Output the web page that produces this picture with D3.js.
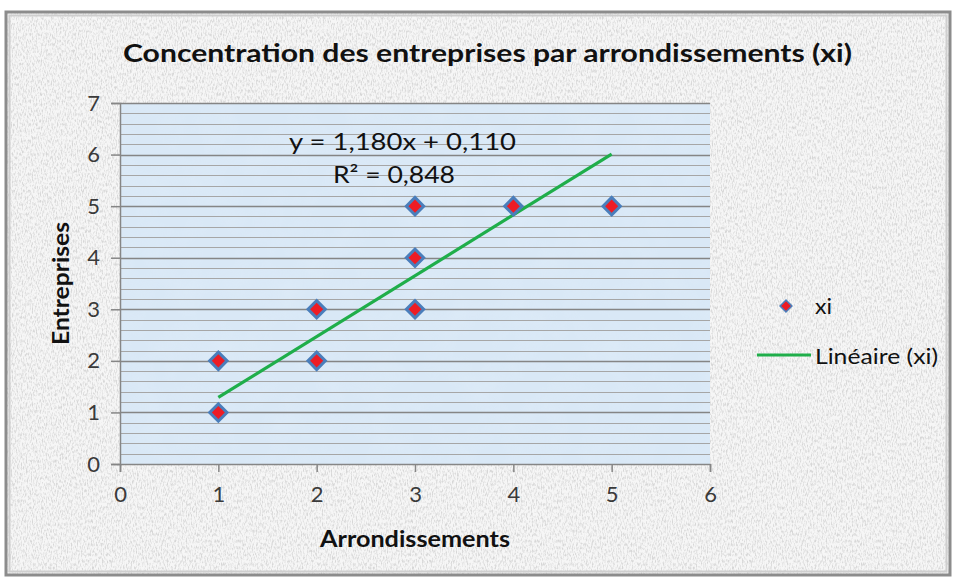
<!DOCTYPE html>
<html><head><meta charset="utf-8">
<script src="https://cdn.jsdelivr.net/npm/d3@7"></script>
<style>html,body{margin:0;padding:0;background:#fff;}svg{display:block;}</style>
</head><body><svg id="c" width="955" height="580"></svg>
<script>
const title = "Concentration des entreprises par arrondissements (xi)";
const xTitle = "Arrondissements";
const yTitle = "Entreprises";
const seriesName = "xi";
const trendName = "Linéaire (xi)";
const xValues = [1, 1, 2, 2, 3, 3, 3, 4, 5];
const yValues = [1, 2, 2, 3, 3, 4, 5, 5, 5];
const xTicks = [0, 1, 2, 3, 4, 5, 6];
const yTicks = [0, 1, 2, 3, 4, 5, 6, 7];
const trendSlope = 1.180;
const trendIntercept = 0.110;
const trendRange = [1, 5];
const equationText = "y = 1,180x + 0,110";
const r2Text = "R² = 0,848";

const svg = d3.select("#c");
const font = "Lato, 'Open Sans', sans-serif";

const defs = svg.append("defs");
const f1 = defs.append("filter").attr("id","paper").attr("x",0).attr("y",0).attr("width","100%").attr("height","100%");
f1.append("feTurbulence").attr("type","fractalNoise").attr("baseFrequency","0.8 0.3").attr("numOctaves",2).attr("seed",3).attr("result","n");
f1.append("feColorMatrix").attr("in","n").attr("type","matrix")
  .attr("values","0 0 0 0 0.6  0 0 0 0 0.6  0 0 0 0 0.6  0 0 0 -3 1.7").attr("result","m");
f1.append("feComposite").attr("in","m").attr("in2","SourceGraphic").attr("operator","in");

const f2 = defs.append("filter").attr("id","blueTex").attr("x",0).attr("y",0).attr("width","100%").attr("height","100%");
f2.append("feTurbulence").attr("type","fractalNoise").attr("baseFrequency","0.03").attr("numOctaves",3).attr("seed",7).attr("result","n");
f2.append("feColorMatrix").attr("in","n").attr("type","matrix")
  .attr("values","0 0 0 0 0.75  0 0 0 0 0.85  0 0 0 0 0.95  0 0 0 -1.6 1.0").attr("result","m");
f2.append("feComposite").attr("in","m").attr("in2","SourceGraphic").attr("operator","in");

// chart frame background
svg.append("rect").attr("x",6).attr("y",12).attr("width",944).attr("height",563).attr("fill","#f6f6f6");
svg.append("rect").attr("x",6).attr("y",12).attr("width",944).attr("height",563).attr("fill","#fff").attr("filter","url(#paper)").attr("opacity",0.7);
svg.append("rect").attr("x",6).attr("y",12).attr("width",944).attr("height",563).attr("fill","none").attr("stroke","#8c8c8c").attr("stroke-width",3);
svg.append("rect").attr("x",9.5).attr("y",15.5).attr("width",937).attr("height",556).attr("fill","none").attr("stroke","#cfcfcf").attr("stroke-width",2);

const x = d3.scaleLinear().domain([0,6]).range([120,710]);
const y = d3.scaleLinear().domain([0,7]).range([464,103]);

// plot area
svg.append("rect").attr("x",x(0)).attr("y",y(7)).attr("width",x(6)-x(0)).attr("height",y(0)-y(7)).attr("fill","#d9e8f6");
svg.append("rect").attr("x",x(0)).attr("y",y(7)).attr("width",x(6)-x(0)).attr("height",y(0)-y(7)).attr("fill","#fff").attr("filter","url(#blueTex)").attr("opacity",0.5);

// minor gridlines
const minor = d3.range(0, 7.0001, 0.2).filter(v => Math.abs(v - Math.round(v)) > 1e-6);
svg.append("g").selectAll("line").data(minor).join("line")
  .attr("x1",x(0)).attr("x2",x(6)).attr("y1",d=>Math.round(y(d))+0.5).attr("y2",d=>Math.round(y(d))+0.5)
  .attr("stroke","#a6a6a6").attr("stroke-width",1.2);
// major gridlines
svg.append("g").selectAll("line").data(yTicks.filter(d=>d>0)).join("line")
  .attr("x1",x(0)).attr("x2",x(6)).attr("y1",d=>Math.round(y(d))+0.5).attr("y2",d=>Math.round(y(d))+0.5)
  .attr("stroke","#858585").attr("stroke-width",1.6);

// axes
const yAxis = svg.append("g").attr("transform",`translate(${x(0)},0)`)
  .call(d3.axisLeft(y).tickValues(yTicks).tickSize(9).tickPadding(11).tickFormat(d3.format("d")));
const xAxis = svg.append("g").attr("transform",`translate(0,${y(0)})`)
  .call(d3.axisBottom(x).tickValues(xTicks).tickSize(8).tickPadding(14).tickFormat(d3.format("d")));
[yAxis,xAxis].forEach(a=>{
  a.select(".domain").attr("stroke","#868686").attr("stroke-width",1.5);
  a.selectAll(".tick line").attr("stroke","#868686").attr("stroke-width",1.5);
  a.selectAll("text").attr("fill","#3a3a3a").attr("font-family",font).attr("font-size",22);
});

// trendline
const line = d3.line().x(d=>x(d)).y(d=>y(trendSlope*d+trendIntercept));
svg.append("path").datum(trendRange).attr("d",line).attr("fill","none").attr("stroke","#1fae4a").attr("stroke-width",3.2);

// markers
const diamond = d3.symbol().type(d3.symbolSquare).size(150);
svg.append("g").selectAll("path").data(xValues.map((v,i)=>[v,yValues[i]])).join("path")
  .attr("d",diamond).attr("transform",d=>`translate(${x(d[0])},${y(d[1])}) rotate(45)`)
  .attr("fill","#ee1c24").attr("stroke","#4a7ebb").attr("stroke-width",3);

function txt(xp, yp, s, size, w, opts={}) {
  const t = svg.append("text").attr("x",xp).attr("y",yp).attr("font-family",font).attr("font-size",size)
    .attr("fill","#111").attr("textLength",w).attr("lengthAdjust","spacingAndGlyphs").text(s);
  if (opts.anchor) t.attr("text-anchor",opts.anchor);
  if (opts.bold) t.attr("font-weight","bold");
  if (opts.transform) t.attr("transform",opts.transform);
  return t;
}
// equation
txt(289, 150, equationText, 23, 227);
txt(333, 183, r2Text, 23, 122);

// titles
txt(123, 62, title, 25, 729, {bold:true});
txt(320, 547, xTitle, 22, 190, {bold:true});
txt(0, 0, yTitle, 22, 123, {bold:true, transform:"translate(69,345) rotate(-90)"});

// legend
svg.append("path").attr("d",d3.symbol().type(d3.symbolSquare).size(70)).attr("transform","translate(786,306) rotate(45)")
  .attr("fill","#ee1c24").attr("stroke","#4a7ebb").attr("stroke-width",1.5);
txt(815, 314, seriesName, 21, 17);
svg.append("line").attr("x1",757).attr("x2",811).attr("y1",355).attr("y2",355).attr("stroke","#1fae4a").attr("stroke-width",3.2);
txt(815, 364, trendName, 21, 123);
</script></body></html>
